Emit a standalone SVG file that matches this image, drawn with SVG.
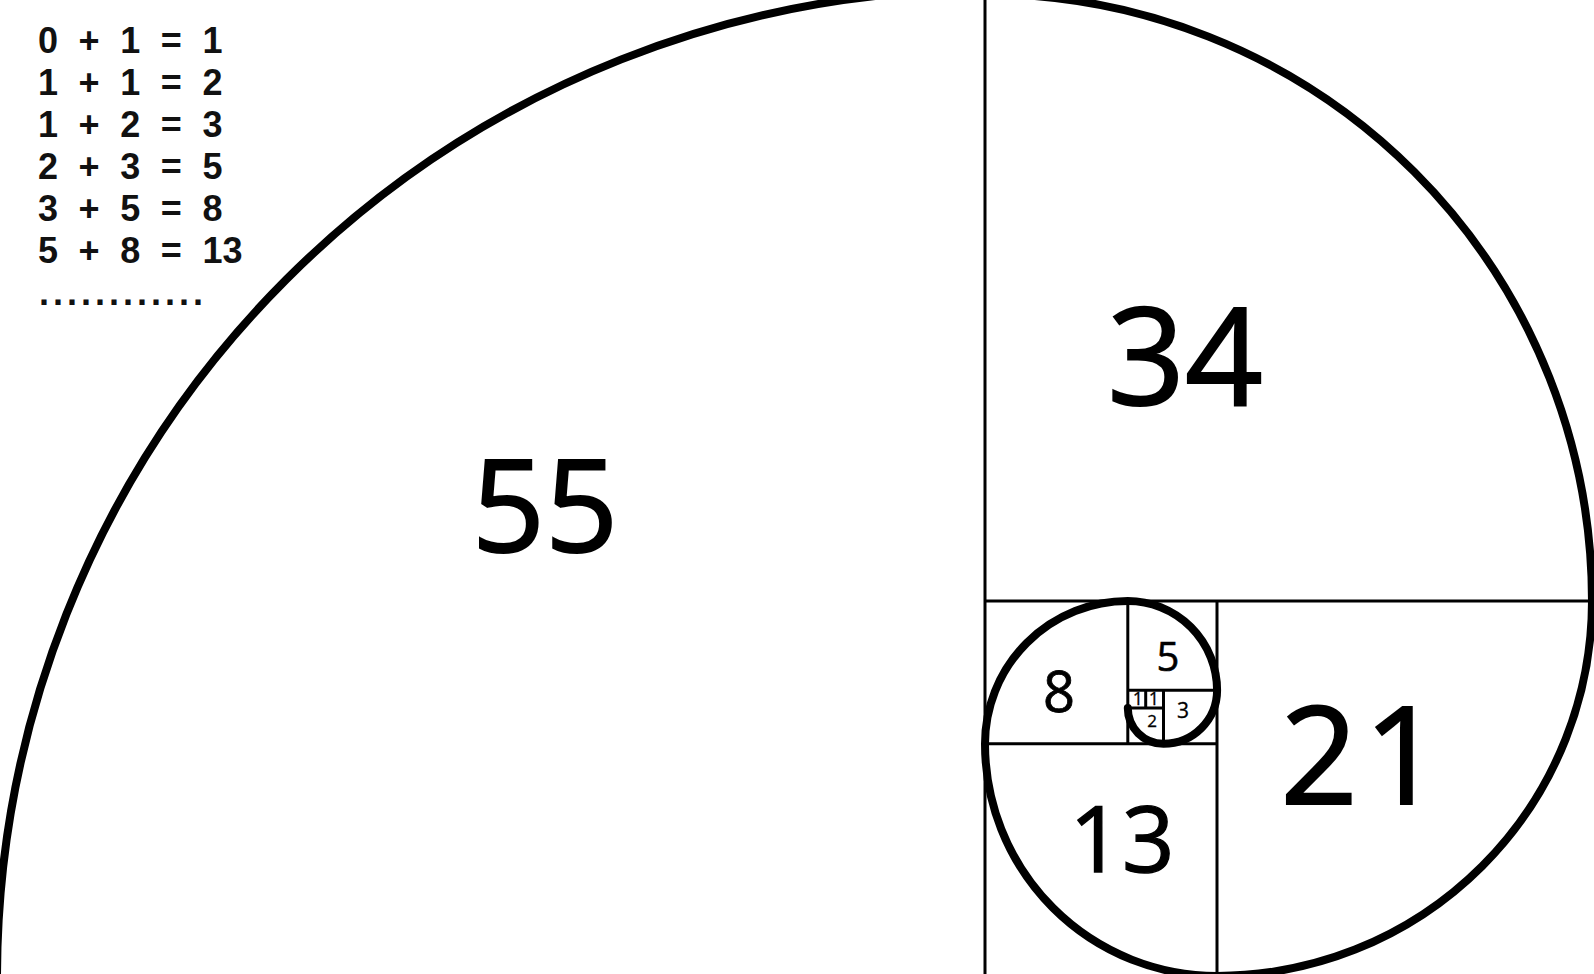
<svg xmlns="http://www.w3.org/2000/svg" width="1594" height="974" viewBox="0 0 1594 974">
<style>
.grid{stroke:#000;stroke-width:3;fill:none}
.spiral{stroke:#000;stroke-width:8;fill:none;stroke-linecap:round;stroke-linejoin:round}
.num{font-family:"Open Sans","Noto Sans","Liberation Sans",sans-serif;fill:#000;stroke:#000;text-anchor:middle}
.eq{font-family:"Liberation Sans",Arial,sans-serif;font-weight:bold;font-size:36px;fill:#111;word-spacing:10.6px}
</style>
<rect width="1594" height="974" fill="#fff"/>
<g id="equations">
<text class="eq" x="38" y="53" xml:space="preserve">0 + 1 = 1</text>
<text class="eq" x="38" y="95" xml:space="preserve">1 + 1 = 2</text>
<text class="eq" x="38" y="137" xml:space="preserve">1 + 2 = 3</text>
<text class="eq" x="38" y="179" xml:space="preserve">2 + 3 = 5</text>
<text class="eq" x="38" y="221" xml:space="preserve">3 + 5 = 8</text>
<text class="eq" x="38" y="263" xml:space="preserve">5 + 8 = 13</text>
<text class="eq" x="39" y="305" style="letter-spacing:4px">............</text>
</g>
<g id="sq55">
<text class="num" x="545" y="552" font-size="128" stroke-width="2">55</text>
</g>
<g id="sq34">
<line class="grid" x1="985" y1="0" x2="985" y2="974"/>
<text class="num" x="1185" y="405" font-size="136" stroke-width="2">34</text>
</g>
<g id="sq21">
<line class="grid" x1="985" y1="601" x2="1592" y2="601"/>
<line class="grid" x1="1217" y1="601" x2="1217" y2="974"/>
<text class="num" x="1364" y="804" font-size="136" stroke-width="2" letter-spacing="6">21</text>
</g>
<g id="sq13">
<line class="grid" x1="985" y1="743.8" x2="1217" y2="743.8"/>
<text class="num" x="1122" y="872" font-size="92" stroke-width="1.4">13</text>
</g>
<g id="sq8">
<line class="grid" x1="1127.8" y1="601" x2="1127.8" y2="743.8"/>
<text class="num" x="1059" y="712" font-size="56" stroke-width="0.8">8</text>
</g>
<g id="sq5">
<line class="grid" x1="1127.8" y1="690.3" x2="1217" y2="690.3"/>
<text class="num" x="1168" y="671" font-size="40" stroke-width="0.6">5</text>
</g>
<g id="sq3">
<line class="grid" x1="1163.5" y1="690.3" x2="1163.5" y2="743.8"/>
<text class="num" x="1183" y="718" font-size="21" stroke-width="0.3">3</text>
</g>
<g id="sq2">
<line class="grid" x1="1127.8" y1="708.1" x2="1163.5" y2="708.1"/>
<text class="num" x="1152" y="727" font-size="17" stroke-width="0.3">2</text>
</g>
<g id="sq1a">
<text class="num" x="1138" y="705" font-size="18" stroke-width="0.3">1</text>
</g>
<g id="sq1b">
<line class="grid" x1="1145.7" y1="690.3" x2="1145.7" y2="708.1"/>
<text class="num" x="1154" y="705" font-size="18" stroke-width="0.3">1</text>
</g>
<g id="connectors">
<path class="spiral" d="M -3 978 A 988 988 0 0 1 985 -10 L 985 -6 A 607 607 0 0 1 1592 601 A 374.9 374.9 0 0 1 1217.1 975.9 A 232.1 232.1 0 0 1 985 743.8 A 142.8 142.8 0 0 1 1127.8 601 A 89.3 89.3 0 0 1 1217.1 690.3 A 53.6 53.6 0 0 1 1163.5 743.8 A 35.7 35.7 0 0 1 1127.8 708.1"/>
</g>
</svg>
